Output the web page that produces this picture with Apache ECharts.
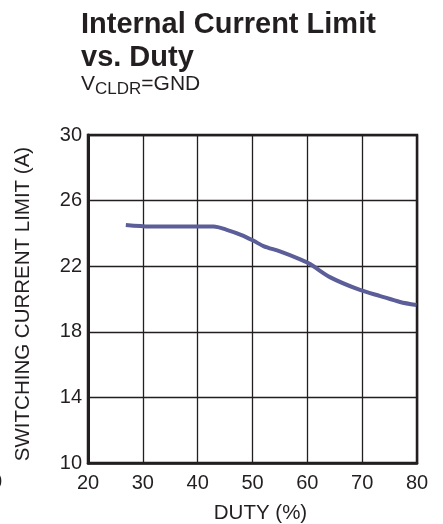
<!DOCTYPE html>
<html>
<head>
    <meta charset="utf-8">
    <title>Internal Current Limit vs. Duty</title>
    <script src="https://cdn.jsdelivr.net/npm/echarts@6/dist/echarts.min.js"></script>
</head>
<body style="margin:0">
<div id="main" style="width:443px;height:524px;"></div>
<script>
    // values
    var duty = [26.9, 31.3, 36, 42.9, 45.3, 48, 50.2, 52, 55, 58.7, 60.5, 64.2, 69.6, 73.3, 76.9, 79.9];
    var current = [24.51, 24.42, 24.42, 24.42, 24.22, 23.9, 23.55, 23.23, 22.9, 22.42, 22.13, 21.32, 20.55, 20.18, 19.82, 19.63];
    var xTicks = [20, 30, 40, 50, 60, 70, 80];
    var yTicks = [10, 14, 18, 22, 26, 30];

    var points = [];
    for (var i = 0; i < duty.length; i++) {
        points.push([duty[i], current[i]]);
    }

    var ink = '#231f20';
    var font = '"Liberation Sans", Arial, Helvetica, sans-serif';

    var myChart = echarts.init(document.getElementById('main'));
    var option = {
        animation: false,
        backgroundColor: '#fff',
        title: {
            text: 'Internal Current Limit\nvs. Duty',
            subtext: 'V{sub|CLDR}=GND',
            left: 76,
            top: 3,
            itemGap: -3,
            textStyle: {
                fontFamily: font,
                fontSize: 29,
                fontWeight: 'bold',
                lineHeight: 33,
                color: ink
            },
            subtextStyle: {
                fontFamily: font,
                fontSize: 21,
                color: ink,
                rich: {
                    sub: {
                        fontFamily: font,
                        fontSize: 17,
                        color: ink,
                        padding: [10, 0, 0, 0]
                    }
                }
            }
        },
        grid: {
            left: 88,
            top: 135,
            right: 26,
            bottom: 61,
            outerBoundsMode: 'none',
            containLabel: false,
            show: true,
            borderColor: ink,
            borderWidth: 2.5
        },
        xAxis: {
            type: 'value',
            min: xTicks[0],
            max: xTicks[xTicks.length - 1],
            interval: 10,
            name: 'DUTY (%)',
            nameLocation: 'middle',
            nameGap: 40,
            nameTextStyle: {
                fontFamily: font,
                fontSize: 20.5,
                color: ink,
                padding: [0, 0, 0, 16]
            },
            axisLine: { lineStyle: { color: ink, width: 2.5 } },
            axisTick: { show: false },
            axisLabel: {
                fontFamily: font,
                fontSize: 20,
                color: ink,
                margin: 10
            },
            splitLine: { lineStyle: { color: ink, width: 1.3 } }
        },
        yAxis: {
            type: 'value',
            min: yTicks[0],
            max: yTicks[yTicks.length - 1],
            interval: 4,
            name: 'SWITCHING CURRENT LIMIT (A)',
            nameLocation: 'middle',
            nameGap: 54,
            nameRotate: 90,
            nameTextStyle: {
                fontFamily: font,
                fontSize: 20.5,
                color: ink,
                padding: [0, 10, 0, 0]
            },
            axisLine: { show: true, lineStyle: { color: ink, width: 3 } },
            axisTick: { show: false },
            axisLabel: {
                fontFamily: font,
                fontSize: 20,
                color: ink,
                margin: 6
            },
            splitLine: { lineStyle: { color: ink, width: 1.3 } }
        },
        graphic: [{
            type: 'text',
            left: -9,
            top: 472,
            style: { text: '0', font: '20px ' + font, fill: ink }
        }],
        series: [{
            type: 'line',
            data: points,
            smooth: 0.3,
            showSymbol: false,
            lineStyle: { color: '#5b5e98', width: 4 }
        }]
    };
    myChart.setOption(option);
</script>
</body>
</html>
